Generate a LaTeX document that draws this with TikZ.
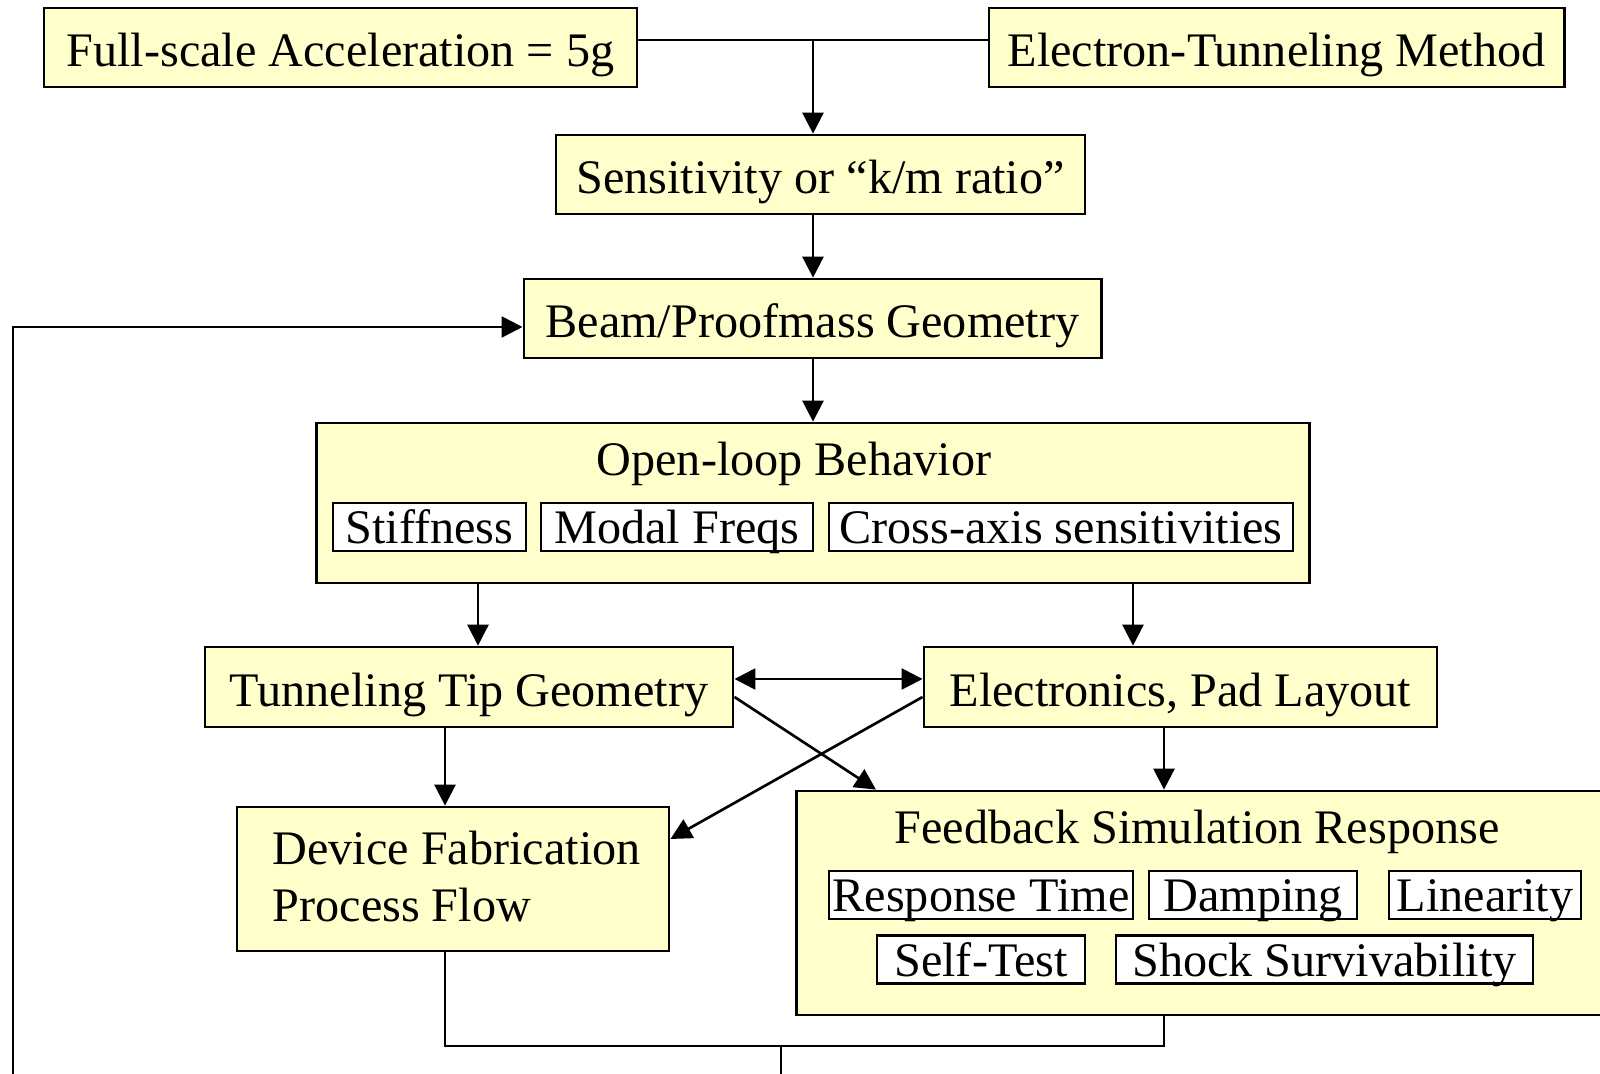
\documentclass[tikz,border=0pt]{standalone}
\usepackage{fontspec}
\setmainfont{Liberation Serif}
\usetikzlibrary{arrows.meta}
\definecolor{boxfill}{HTML}{FFFFCC}

\begin{document}
\begin{tikzpicture}[x=0.01cm, y=-0.01cm, >={Triangle[length=0.21cm, width=0.21cm]},
    every node/.style={font=\fontsize{13.7}{16.2}\selectfont},
    block/.style={draw, line width=0.75pt, fill=boxfill, inner sep=0pt, text height=12pt, text depth=1pt},
    tag/.style={draw, line width=0.6pt, fill=white, inner sep=0pt, minimum height=0.48cm,
      text height=11pt, text depth=1.5pt},
    link/.style={line width=0.75pt},
    arr/.style={link, ->}]
  \useasboundingbox (0,0) rectangle (1600,1074);
  \clip (0,0) rectangle (1600,1074);

  % Design inputs
  \node[block, minimum width=5.93cm, minimum height=0.79cm] (accel) at (340.5,47.5) {Full-scale Acceleration = 5g};
  \node[block, minimum width=5.75cm, minimum height=0.79cm] (etm) at (1276.5,47.5) {Electron-Tunneling Method};
  \node[block, minimum width=5.29cm, minimum height=0.79cm] (sens) at (820.5,174.5) {Sensitivity or “k/m ratio”};
  \node[block, minimum width=5.77cm, minimum height=0.79cm] (beam) at (812.5,318.5) {Beam/Proofmass Geometry};

  % Open-loop analysis with its items
  \node[block, minimum width=9.92cm, minimum height=1.60cm] (open) at (813,503) {};
  \node (openT) at (794,464) {Open-loop Behavior};
  \foreach \nm/\cx/\bw/\txt in {stiff/429.5/1.93/Stiffness, modal/677/2.72/Modal Freqs,
      cross/1061/4.64/Cross-axis sensitivities}
    \node[tag, minimum width=\bw cm] (\nm) at (\cx,527) {\txt};

  \node[block, minimum width=5.28cm, minimum height=0.80cm] (tip) at (469,687) {Tunneling Tip Geometry};
  \node[block, minimum width=5.13cm, minimum height=0.80cm] (elec) at (1180.5,687) {Electronics, Pad Layout};
  \node[block, minimum width=4.32cm, minimum height=1.44cm] (fab) at (453,879) {};
  \node[anchor=west, align=left, inner sep=0pt] (fabT) at (272,877) {Device Fabrication\\Process Flow};

  % Closed-loop simulation with its items
  \node[block, minimum width=8.30cm, minimum height=2.24cm] (feed) at (1212,903) {};
  \node (feedT) at (1197,832) {Feedback Simulation Response};
  \foreach \nm/\cx/\cy/\bw/\txt in {resp/981/895/3.04/Response Time, damp/1253/895/2.08/Damping,
      lin/1485/895/1.92/Linearity, self/981/959.5/2.08/Self-Test,
      shock/1324.5/959.5/4.17/Shock Survivability}
    \node[tag, minimum width=\bw cm] (\nm) at (\cx,\cy) {\txt};

  % Main trunk
  \coordinate (trunk) at (813,40);
  \draw[link] (trunk -| accel.east) -- (trunk -| etm.west);
  \draw[arr] (trunk) -- (trunk |- sens.north);
  \draw[arr] (trunk |- sens.south) -- (trunk |- beam.north);
  \draw[arr] (trunk |- beam.south) -- (trunk |- open.north);

  % Split into tip and electronics
  \coordinate (lft) at (478,0);
  \coordinate (rgt) at (1133,0);
  \draw[arr] (lft |- open.south) -- (lft |- tip.north);
  \draw[arr] (rgt |- open.south) -- (rgt |- elec.north);
  \coordinate (mid) at (0,679);
  \draw[link, <->] (mid -| tip.east) -- (mid -| elec.west);

  % Crossing links
  \coordinate (xrow) at (0,697);
  \coordinate (tofeed) at (876,0);
  \coordinate (tofab) at (0,839);
  \draw[arr] (xrow -| tip.east) -- (tofeed |- feed.north);
  \draw[arr] (xrow -| elec.west) -- (tofab -| fab.east);

  \coordinate (fabx) at (445,0);
  \coordinate (feedx) at (1164,0);
  \draw[arr] (fabx |- tip.south) -- (fabx |- fab.north);
  \draw[arr] (feedx |- elec.south) -- (feedx |- feed.north);

  % Merge at the bottom and loop back to the geometry
  \coordinate (botjoin) at (781,1046);
  \draw[link] (fabx |- fab.south) |- (botjoin) -| (feedx |- feed.south);
  \draw[link] (botjoin) -- ++(0,60);
  \coordinate (loop) at (13,1100);
  \coordinate (loopy) at (0,327);
  \draw[arr] (loop) |- (loopy -| beam.west);
\end{tikzpicture}
\end{document}
